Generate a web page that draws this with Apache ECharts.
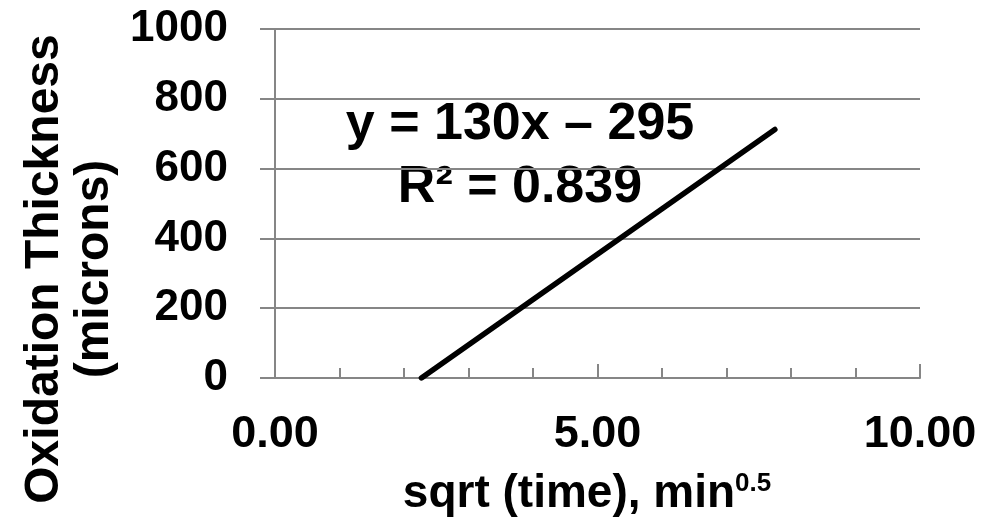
<!DOCTYPE html>
<html>
<head>
<meta charset="utf-8">
<script src="https://cdn.jsdelivr.net/npm/echarts@6/dist/echarts.min.js"></script>
<style>
  html, body { margin: 0; padding: 0; background: #fff; }
  #chart { width: 993px; height: 525px; }
</style>
</head>
<body>
<div id="chart"></div>
<script>
// Linear fit of oxide thickness against the square root of time
const trendX = [2.27, 7.75];      // sqrt(time), min^0.5
const trendY = [0, 712];          // thickness, microns
const xRange = [0, 10];
const yRange = [0, 1000];
const fitEquation = 'y = 130x \u2013 295';
const fitR2 = 'R\u00B2 = 0.839';

const FONT = "'Liberation Sans', Arial, Helvetica, sans-serif";
const AXIS_GRAY = '#868686';

const chart = echarts.init(document.getElementById('chart'), null, { renderer: 'canvas' });

const option = {
  animation: false,
  backgroundColor: '#ffffff',
  grid: { left: 275, right: 73, top: 29, bottom: 147 },
  xAxis: {
    type: 'value',
    min: xRange[0],
    max: xRange[1],
    interval: 5,
    axisLine: { show: true, onZero: false, lineStyle: { color: AXIS_GRAY, width: 2 } },
    axisTick: { show: true, inside: true, length: 14, lineStyle: { color: AXIS_GRAY, width: 2 } },
    minorTick: { show: true, splitNumber: 5, length: 10, lineStyle: { color: AXIS_GRAY, width: 2 } },
    splitLine: { show: false },
    axisLabel: {
      formatter: v => v.toFixed(2),
      margin: 34,
      fontSize: 45,
      fontWeight: 'bold',
      fontFamily: FONT,
      color: '#000'
    }
  },
  yAxis: {
    type: 'value',
    min: yRange[0],
    max: yRange[1],
    interval: 200,
    axisLine: { show: true, lineStyle: { color: AXIS_GRAY, width: 2 } },
    axisTick: { show: true, inside: false, length: 15, lineStyle: { color: AXIS_GRAY, width: 2 } },
    splitLine: { show: true, lineStyle: { color: AXIS_GRAY, width: 2 } },
    axisLabel: {
      formatter: v => String(v),
      margin: 47,
      fontSize: 44,
      fontWeight: 'bold',
      fontFamily: FONT,
      color: '#000'
    }
  },
  series: [{
    type: 'line',
    data: trendX.map((x, i) => [x, trendY[i]]),
    symbol: 'none',
    lineStyle: { color: '#000', width: 5.5, cap: 'round' },
    z: 5
  }],
  graphic: [
    {
      type: 'text',
      x: 70, y: 269,
      rotation: Math.PI / 2,
      style: {
        text: 'Oxidation Thickness\n(microns)',
        align: 'center',
        verticalAlign: 'middle',
        fontSize: 48,
        fontWeight: 'bold',
        fontFamily: FONT,
        lineHeight: 50,
        fill: '#000'
      }
    },
    {
      type: 'text',
      x: 587, y: 494,
      style: {
        text: 'sqrt (time), min{sup|0.5}',
        align: 'center',
        verticalAlign: 'middle',
        fontSize: 46,
        fontWeight: 'bold',
        fontFamily: FONT,
        lineHeight: 46,
        fill: '#000',
        rich: {
          sup: {
            fontSize: 26,
            fontWeight: 'bold',
            fontFamily: FONT,
            lineHeight: 36,
            verticalAlign: 'top',
            fill: '#000'
          }
        }
      }
    },
    {
      type: 'text',
      x: 520, y: 125,
      style: {
        text: fitEquation,
        align: 'center',
        verticalAlign: 'middle',
        fontSize: 52,
        fontWeight: 'bold',
        fontFamily: FONT,
        fill: '#000'
      }
    },
    {
      type: 'text',
      x: 520, y: 188,
      style: {
        text: fitR2,
        align: 'center',
        verticalAlign: 'middle',
        fontSize: 52,
        fontWeight: 'bold',
        fontFamily: FONT,
        fill: '#000'
      }
    }
  ]
};

chart.setOption(option);
</script>
</body>
</html>
